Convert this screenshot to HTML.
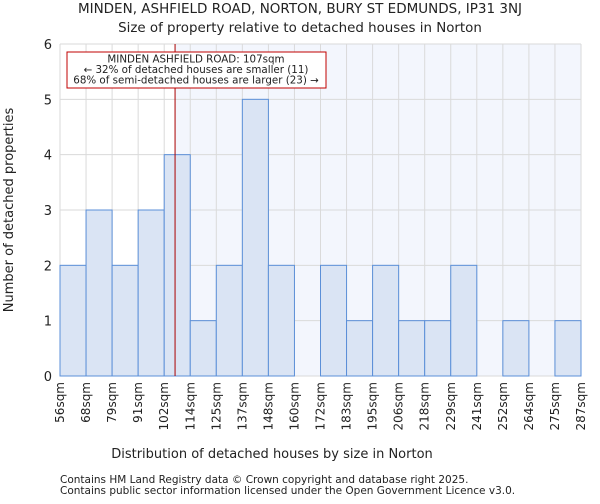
<!DOCTYPE html>
<html><head><meta charset="utf-8"><style>
body{margin:0;background:#fff;font-family:"DejaVu Sans","Liberation Sans",sans-serif;}
svg text{font-family:"DejaVu Sans","Liberation Sans",sans-serif;fill:#222;}
</style></head><body>
<svg id="chart" width="600" height="500" xmlns="http://www.w3.org/2000/svg">
<text x="300" y="13" text-anchor="middle" font-size="13.5">MINDEN, ASHFIELD ROAD, NORTON, BURY ST EDMUNDS, IP31 3NJ</text>
<text x="300" y="32" text-anchor="middle" font-size="13.4">Size of property relative to detached houses in Norton</text>
<g id="plot"></g>
<text x="272" y="458" text-anchor="middle" font-size="13">Distribution of detached houses by size in Norton</text>
<text transform="translate(13,210) rotate(-90)" text-anchor="middle" font-size="13">Number of detached properties</text>
<text x="60" y="483" font-size="10.5" fill="#444">Contains HM Land Registry data © Crown copyright and database right 2025.</text>
<text x="60" y="494" font-size="10.5" fill="#444">Contains public sector information licensed under the Open Government Licence v3.0.</text>
</svg>
<script>
const categories=["56sqm","68sqm","79sqm","91sqm","102sqm","114sqm","125sqm","137sqm","148sqm","160sqm","172sqm","183sqm","195sqm","206sqm","218sqm","229sqm","241sqm","252sqm","264sqm","275sqm","287sqm"];
const counts=[2,3,2,3,4,1,2,5,2,0,2,1,2,1,1,2,0,1,0,1];
const yTicks=[0,1,2,3,4,5,6];
const binEdges=[56,68,79,91,102,114,125,137,148,160,172,183,195,206,218,229,241,252,264,275,287];
const subjectSize=107;
const L=60,R=581,T=44,B=376,ymax=6;
const NS="http://www.w3.org/2000/svg";
const g=document.getElementById('plot');
const bw=(R-L)/counts.length;
const x=i=>L+i*bw;
const y=v=>B-(v/ymax)*(B-T);
function xv(v){for(let i=0;i<binEdges.length-1;i++){if(v<=binEdges[i+1])return x(i)+(v-binEdges[i])/(binEdges[i+1]-binEdges[i])*bw;}return R;}
function mk(t,a){const e=document.createElementNS(NS,t);for(const k in a)e.setAttribute(k,a[k]);g.appendChild(e);return e;}
const sx=xv(subjectSize);
let e=mk('rect',{x:sx,y:T,width:R-sx,height:B-T,fill:'#f3f6fd'});


for(let i=0;i<=counts.length;i++){e=mk('line',{x1:x(i),x2:x(i),y1:T,y2:B,stroke:'#dadada','stroke-width':1});

}
yTicks.forEach(v=>{e=mk('line',{x1:L,x2:R,y1:y(v),y2:y(v),stroke:'#dadada','stroke-width':1});


const t=mk('text',{x:L-8,y:y(v)+5,'text-anchor':'end','font-size':13});t.textContent=v;

});
counts.forEach((c,i)=>{if(c<=0)return;e=mk('rect',{x:x(i),y:y(c),width:bw,height:B-y(c),fill:'#dae4f4',stroke:'#5b8fd8','stroke-width':1});

});
categories.forEach((c,i)=>{const t=mk('text',{transform:`translate(${x(i)+4},382) rotate(-90)`,'text-anchor':'end','font-size':12});t.textContent=c;

});
e=mk('line',{x1:sx,x2:sx,y1:T,y2:B,stroke:'#aa0000','stroke-width':1});


e=mk('rect',{x:67,y:52,width:259,height:36,fill:'#fff',stroke:'#c00000','stroke-width':1});


["MINDEN ASHFIELD ROAD: 107sqm","← 32% of detached houses are smaller (11)","68% of semi-detached houses are larger (23) →"].forEach((s,i)=>{const t=mk('text',{x:196,y:62.5+i*10.5,'text-anchor':'middle','font-size':10.3});t.textContent=s;

});
</script>
</body></html>
